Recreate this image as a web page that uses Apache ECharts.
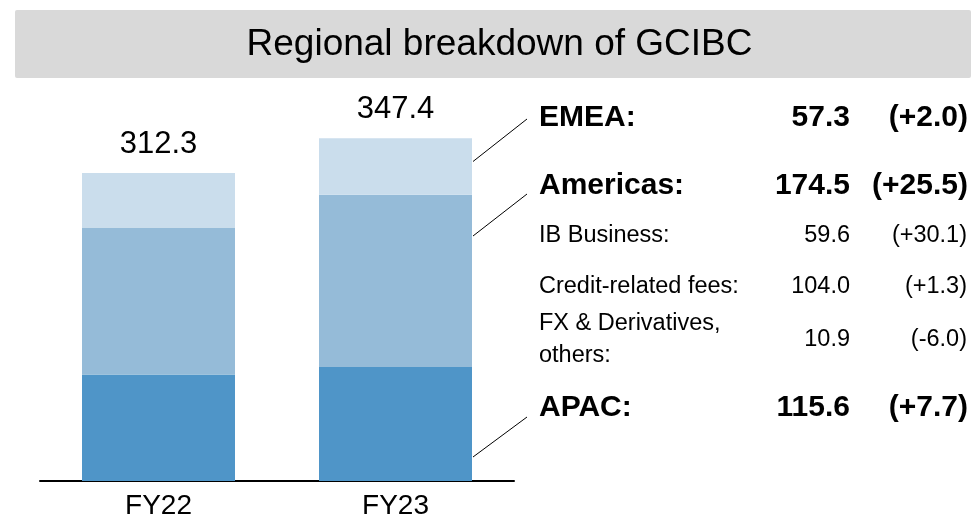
<!DOCTYPE html>
<html>
<head>
<meta charset="utf-8">
<script src="https://cdn.jsdelivr.net/npm/echarts@6/dist/echarts.min.js"></script>
<style>
html,body{margin:0;padding:0;background:#fff;}
#chart{width:971px;height:520px;}
</style>
</head>
<body>
<div id="chart"></div>
<script>
// ---- data ----
const categories = ['FY22', 'FY23'];
const apac = [107.9, 115.6];
const americas = [149.0, 174.5];
const emea = [55.3, 57.3];
const totals = [312.3, 347.4];

const titleText = 'Regional breakdown of GCIBC';
const rowLabels = ['EMEA:', 'Americas:', 'IB Business:', 'Credit-related fees:', 'FX & Derivatives,\nothers:', 'APAC:'];
const rowValues = ['57.3', '174.5', '59.6', '104.0', '10.9', '115.6'];
const rowChanges = ['(+2.0)', '(+25.5)', '(+30.1)', '(+1.3)', '(-6.0)', '(+7.7)'];
const rowBold = [true, true, false, false, false, true];

// ---- layout ----
const FONT = '"Liberation Sans", Arial, Helvetica, sans-serif';
const rowY = [117.5, 186, 236, 287, 340, 407.5];
const connectors = [
  [473, 161.5, 527, 119],
  [473, 236, 527, 194],
  [473, 457, 527, 417]
];

const chart = echarts.init(document.getElementById('chart'));

const graphics = [
  { type: 'rect', shape: { x: 15, y: 10, width: 956, height: 68, r: 2 }, style: { fill: '#D9D9D9' }, z: 0 },
  { type: 'text', x: 499.5, y: 45, style: { text: titleText, fill: '#000', fontSize: 37, fontFamily: FONT, align: 'center', verticalAlign: 'middle' } }
];
rowLabels.forEach((lab, i) => {
  const bold = rowBold[i];
  const fs = bold ? 30 : 23.5;
  const fw = bold ? 'bold' : 'normal';
  graphics.push({ type: 'text', x: 539, y: rowY[i], style: { text: lab, fill: '#000', fontSize: fs, fontWeight: fw, fontFamily: FONT, align: 'left', verticalAlign: 'middle', lineHeight: 32 } });
  graphics.push({ type: 'text', x: 850, y: rowY[i], style: { text: rowValues[i], fill: '#000', fontSize: fs, fontWeight: fw, fontFamily: FONT, align: 'right', verticalAlign: 'middle' } });
  graphics.push({ type: 'text', x: bold ? 968 : 967, y: rowY[i], style: { text: rowChanges[i], fill: '#000', fontSize: fs, fontWeight: fw, fontFamily: FONT, align: 'right', verticalAlign: 'middle' } });
});
connectors.forEach(c => {
  graphics.push({ type: 'line', shape: { x1: c[0], y1: c[1], x2: c[2], y2: c[3] }, style: { stroke: '#000', lineWidth: 1 } });
});

chart.setOption({
  animation: false,
  backgroundColor: '#fff',
  grid: { left: 40, right: 457, top: 86.4, bottom: 39, containLabel: false },
  xAxis: {
    type: 'category',
    data: categories,
    axisLine: { show: true, lineStyle: { color: '#000', width: 2 } },
    axisTick: { show: false },
    axisLabel: { color: '#000', fontSize: 28, fontFamily: FONT, margin: 11 }
  },
  yAxis: { type: 'value', min: 0, max: 400, show: false, splitLine: { show: false } },
  series: [
    { name: 'APAC', type: 'bar', stack: 'a', barWidth: 153, data: apac, itemStyle: { color: '#4F95C8' } },
    { name: 'Americas', type: 'bar', stack: 'a', barWidth: 153, data: americas, itemStyle: { color: '#95BBD8' } },
    { name: 'EMEA', type: 'bar', stack: 'a', barWidth: 153, data: emea, itemStyle: { color: '#CADDEC' },
      label: { show: true, position: 'top', distance: 13, color: '#000', fontSize: 31, fontFamily: FONT,
        formatter: p => totals[p.dataIndex].toFixed(1) } }
  ],
  graphic: graphics
});
</script>
</body>
</html>
